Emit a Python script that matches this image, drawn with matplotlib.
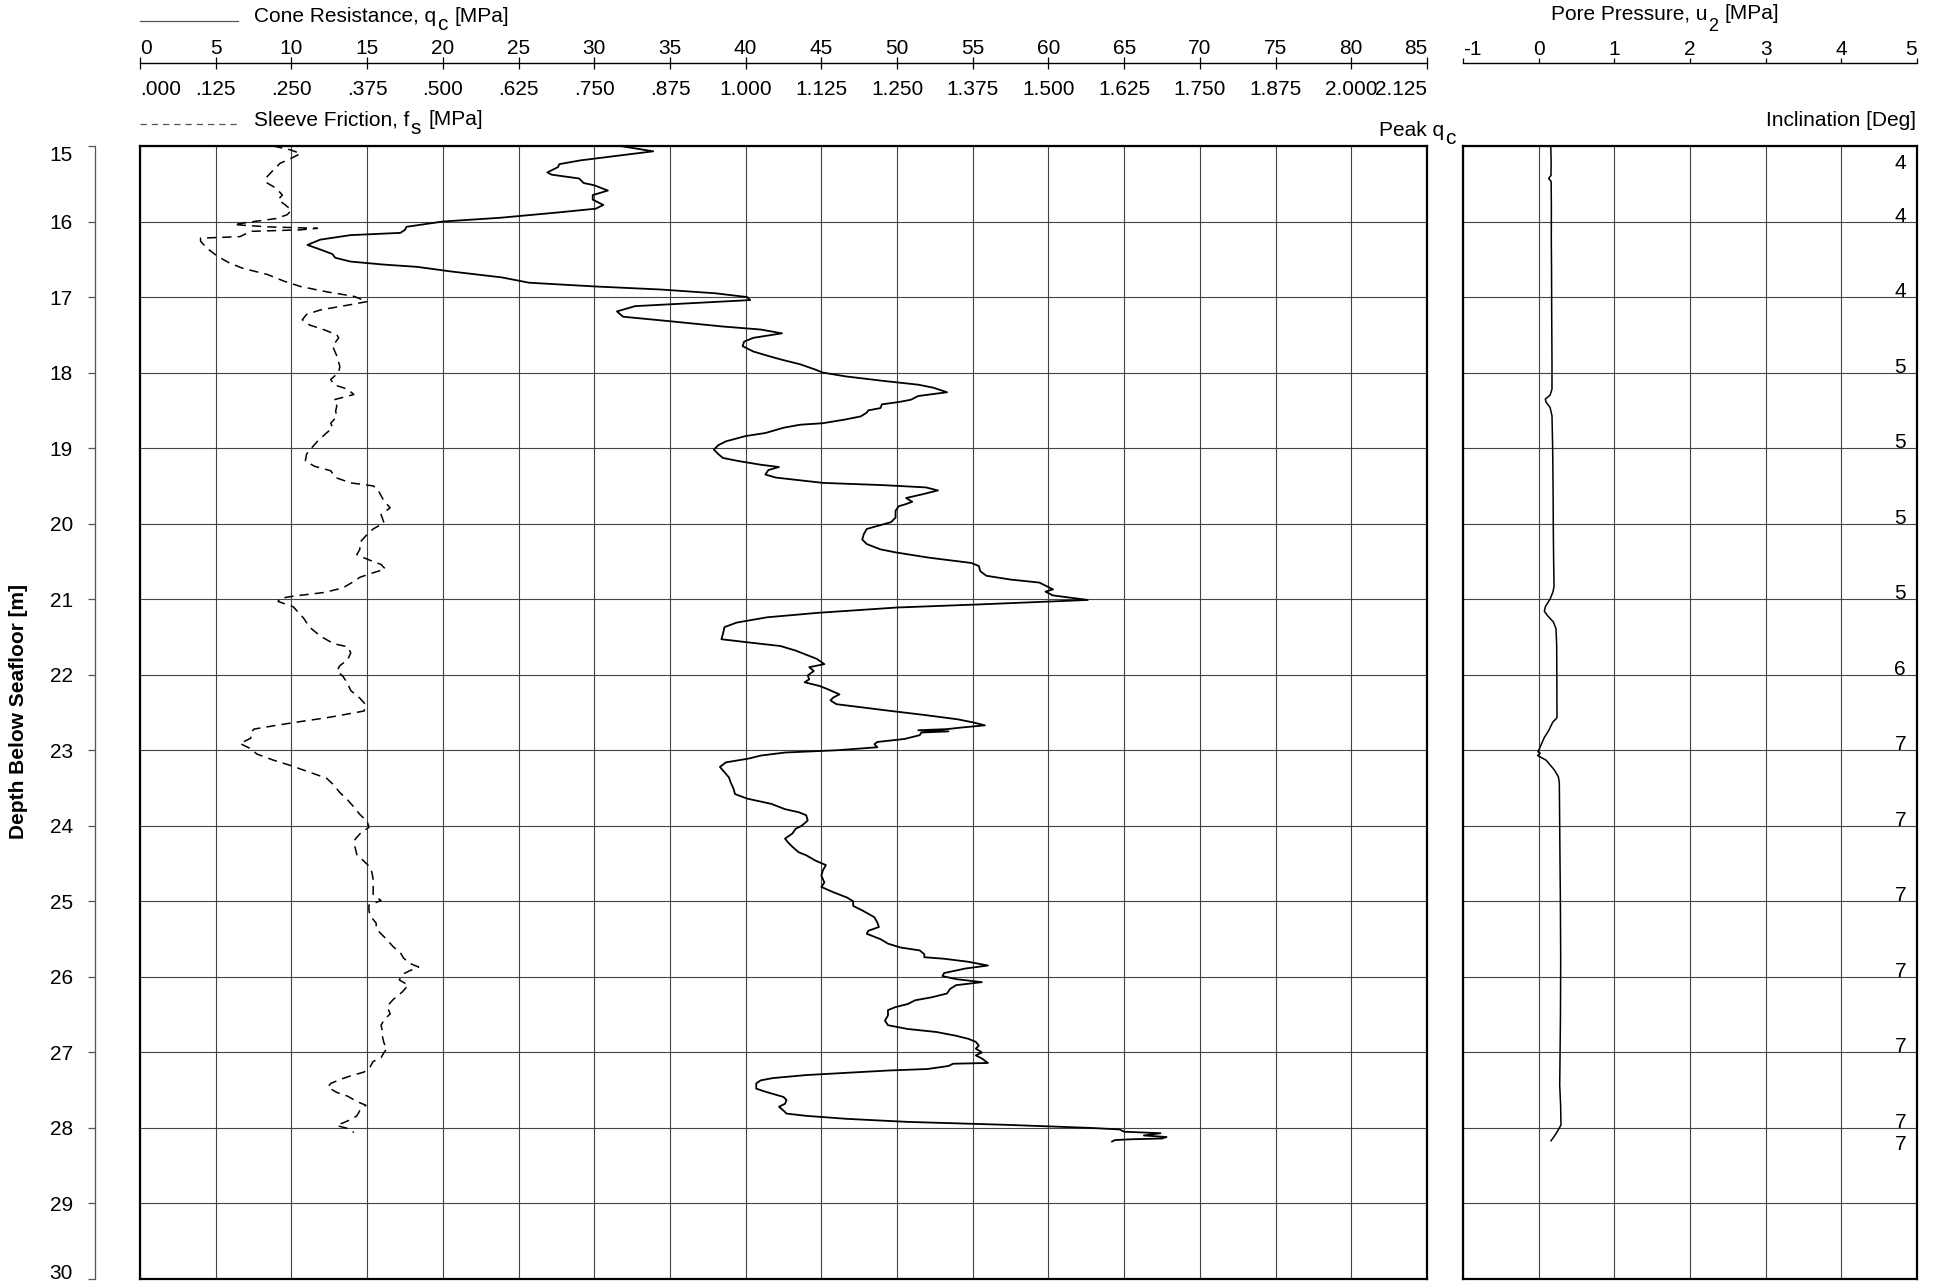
import matplotlib
matplotlib.use("Agg")
import matplotlib.pyplot as plt
from matplotlib.lines import Line2D
from matplotlib.transforms import blended_transform_factory

plt.rcParams["font.family"] = ["Liberation Sans", "DejaVu Sans"]
plt.rcParams["axes.unicode_minus"] = False

W, H = 1934, 1281
FS = 15
PX = 100 / 72  # pixels per point at 100 dpi

# ---------------- CPT data ----------------
qc_depth = [15.0, 15.07, 15.19, 15.24, 15.28, 15.35, 15.38, 15.43, 15.49, 15.52, 15.59, 15.65,
            15.71, 15.78, 15.83, 15.88, 15.95, 16.0, 16.07, 16.11, 16.15, 16.18, 16.24, 16.31,
            16.37, 16.43, 16.48, 16.53, 16.57, 16.6, 16.66, 16.74, 16.81, 16.86, 16.9, 16.95,
            17.0, 17.04, 17.08, 17.12, 17.19, 17.26, 17.32, 17.39, 17.43, 17.48, 17.54, 17.59,
            17.65, 17.72, 17.78, 17.83, 17.89, 17.96, 18.0, 18.05, 18.11, 18.16, 18.2, 18.26,
            18.31, 18.36, 18.39, 18.42, 18.47, 18.5, 18.53, 18.58, 18.62, 18.67, 18.69, 18.73,
            18.8, 18.84, 18.91, 18.96, 19.02, 19.08, 19.13, 19.17, 19.22, 19.25, 19.29, 19.35,
            19.39, 19.46, 19.49, 19.52, 19.56, 19.61, 19.66, 19.71, 19.74, 19.77, 19.83, 19.92,
            19.98, 20.03, 20.07, 20.14, 20.21, 20.27, 20.34, 20.38, 20.45, 20.52, 20.56, 20.63,
            20.69, 20.74, 20.78, 20.82, 20.87, 20.9, 20.95, 21.01, 21.07, 21.11, 21.18, 21.24,
            21.31, 21.37, 21.46, 21.53, 21.57, 21.62, 21.68, 21.75, 21.79, 21.86, 21.9, 21.95,
            22.01, 22.06, 22.1, 22.15, 22.19, 22.26, 22.3, 22.34, 22.39, 22.43, 22.48, 22.53,
            22.59, 22.63, 22.67, 22.7, 22.72, 22.735, 22.75, 22.765, 22.8, 22.85, 22.89, 22.92,
            22.96, 23.0, 23.03, 23.07, 23.11, 23.16, 23.22, 23.29, 23.36, 23.42, 23.51, 23.58,
            23.64, 23.71, 23.78, 23.82, 23.86, 23.93, 24.0, 24.04, 24.1, 24.17, 24.22, 24.28,
            24.35, 24.39, 24.46, 24.52, 24.59, 24.66, 24.75, 24.81, 24.88, 24.95, 25.0, 25.06,
            25.12, 25.21, 25.28, 25.34, 25.39, 25.43, 25.5, 25.56, 25.61, 25.65, 25.7, 25.74,
            25.76, 25.8, 25.85, 25.89, 25.95, 25.99, 26.03, 26.07, 26.11, 26.16, 26.22, 26.27,
            26.31, 26.36, 26.4, 26.44, 26.51, 26.58, 26.64, 26.69, 26.73, 26.78, 26.82, 26.86,
            26.91, 26.95, 27.0, 27.04, 27.08, 27.14, 27.15, 27.18, 27.22, 27.24, 27.27, 27.3,
            27.34, 27.37, 27.41, 27.48, 27.52, 27.59, 27.63, 27.68, 27.72, 27.77, 27.81, 27.84,
            27.88, 27.92, 27.96, 28.0, 28.02, 28.05, 28.07, 28.1, 28.12, 28.14, 28.15, 28.16,
            28.18]
qc_mpa = [31.7, 33.9, 29.1, 27.7, 27.6, 26.9, 27.2, 29.0, 29.3, 30.0, 30.9, 29.9,
          29.9, 30.6, 30.1, 27.6, 23.8, 20.0, 17.6, 17.5, 17.2, 13.9, 11.9, 11.06,
          11.9, 12.7, 12.9, 13.9, 16.1, 18.3, 20.5, 23.9, 25.7, 30.1, 34.4, 38.0,
          40.1, 40.3, 36.5, 32.7, 31.5, 31.9, 35.0, 38.5, 41.0, 42.4, 40.5, 39.9,
          39.8, 40.5, 41.5, 42.4, 43.6, 44.6, 45.1, 46.6, 49.1, 51.4, 52.4, 53.3,
          51.4, 50.9, 50.1, 49.0, 48.9, 48.1, 48.0, 47.6, 46.6, 45.1, 43.6, 42.5,
          41.3, 40.0, 38.7, 38.2, 37.9, 38.2, 38.5, 39.5, 41.0, 42.2, 41.5, 41.3,
          42.0, 45.1, 49.1, 51.9, 52.7, 51.7, 50.6, 51.0, 50.6, 50.1, 49.9, 49.9,
          49.6, 48.7, 48.0, 47.8, 47.7, 48.0, 48.9, 49.9, 52.1, 54.9, 55.4, 55.5,
          55.9, 57.5, 59.4, 59.8, 60.3, 59.8, 60.3, 62.6, 55.3, 50.0, 44.8, 41.4,
          39.4, 38.6, 38.5, 38.4, 40.1, 42.3, 43.3, 44.2, 44.7, 45.2, 44.2, 44.5,
          44.1, 44.2, 43.9, 44.9, 45.4, 46.2, 45.8, 45.6, 46.0, 47.6, 49.6, 51.7,
          54.0, 55.0, 55.8, 54.2, 53.3, 51.4, 53.4, 51.6, 51.5, 50.5, 48.7, 48.5,
          48.7, 46.0, 42.6, 41.0, 40.2, 38.7, 38.3, 38.6, 38.9, 39.0, 39.2, 39.3,
          40.1, 41.7, 42.6, 43.5, 44.0, 44.1, 43.7, 43.3, 43.1, 42.6, 42.8, 43.1,
          43.5, 44.0, 44.6, 45.3, 45.1, 45.0, 45.2, 45.0, 45.8, 46.7, 47.1, 47.1,
          47.7, 48.5, 48.7, 48.8, 48.1, 48.0, 48.9, 49.4, 50.2, 51.5, 51.8, 51.8,
          53.1, 54.7, 56.0, 54.5, 53.1, 53.0, 53.9, 55.6, 53.9, 53.5, 53.3, 52.3,
          51.2, 50.7, 49.9, 49.4, 49.4, 49.2, 49.4, 50.7, 52.6, 53.9, 54.7, 55.2,
          55.4, 55.2, 55.6, 55.2, 55.6, 56.0, 53.7, 53.4, 52.0, 49.4, 46.7, 44.0,
          41.8, 41.0, 40.7, 40.7, 41.3, 42.5, 42.7, 42.6, 42.2, 42.5, 42.7, 44.0,
          46.7, 50.7, 57.4, 62.8, 64.7, 65.0, 67.4, 66.3, 67.8, 67.5, 65.5, 64.4,
          64.2]

fs_depth = [15.0, 15.05, 15.1, 15.17, 15.23, 15.32, 15.43, 15.49, 15.56, 15.65, 15.71, 15.78,
            15.85, 15.91, 15.96, 16.0, 16.04, 16.07, 16.09, 16.11, 16.13, 16.2, 16.22, 16.26,
            16.35, 16.46, 16.55, 16.62, 16.7, 16.79, 16.86, 16.93, 16.99, 17.06, 17.1, 17.17,
            17.23, 17.3, 17.37, 17.43, 17.5, 17.54, 17.65, 17.78, 17.92, 18.0, 18.09, 18.16,
            18.22, 18.29, 18.36, 18.44, 18.51, 18.58, 18.67, 18.73, 18.82, 18.91, 19.0, 19.08,
            19.17, 19.24, 19.3, 19.39, 19.46, 19.5, 19.55, 19.63, 19.7, 19.79, 19.88, 19.99,
            20.07, 20.16, 20.25, 20.34, 20.41, 20.47, 20.54, 20.6, 20.65, 20.71, 20.78, 20.85,
            20.91, 20.96, 20.99, 21.03, 21.1, 21.25, 21.37, 21.49, 21.59, 21.63, 21.71, 21.8,
            21.88, 21.95, 22.02, 22.12, 22.21, 22.31, 22.4, 22.48, 22.52, 22.57, 22.62, 22.67,
            22.72, 22.77, 22.84, 22.91, 22.98, 23.05, 23.13, 23.2, 23.29, 23.37, 23.46, 23.56,
            23.66, 23.75, 23.85, 23.94, 24.02, 24.09, 24.18, 24.28, 24.38, 24.47, 24.55, 24.62,
            24.71, 24.81, 24.91, 24.99, 25.05, 25.12, 25.19, 25.29, 25.36, 25.43, 25.51, 25.6,
            25.68, 25.75, 25.82, 25.87, 25.92, 25.96, 26.04, 26.11, 26.2, 26.3, 26.39, 26.49,
            26.57, 26.64, 26.71, 26.78, 26.88, 26.95, 27.0, 27.07, 27.12, 27.19, 27.26, 27.31,
            27.36, 27.41, 27.46, 27.53, 27.58, 27.65, 27.7, 27.77, 27.84, 27.89, 27.94, 27.97,
            27.99, 28.01, 28.06]
fs_mpa = [0.220, 0.248, 0.265, 0.248, 0.231, 0.220, 0.207, 0.210, 0.225, 0.235, 0.228, 0.240,
          0.250, 0.243, 0.225, 0.188, 0.155, 0.210, 0.293, 0.265, 0.183, 0.165, 0.100, 0.100,
          0.110, 0.128, 0.148, 0.170, 0.210, 0.238, 0.265, 0.308, 0.353, 0.375, 0.348, 0.298,
          0.275, 0.268, 0.280, 0.303, 0.325, 0.328, 0.318, 0.325, 0.330, 0.328, 0.315, 0.320,
          0.343, 0.353, 0.320, 0.325, 0.323, 0.325, 0.315, 0.318, 0.305, 0.293, 0.283, 0.275,
          0.273, 0.288, 0.315, 0.323, 0.348, 0.385, 0.393, 0.398, 0.403, 0.413, 0.398, 0.403,
          0.385, 0.373, 0.363, 0.363, 0.358, 0.375, 0.398, 0.405, 0.385, 0.363, 0.350, 0.335,
          0.305, 0.253, 0.231, 0.228, 0.253, 0.270, 0.280, 0.298, 0.320, 0.343, 0.348, 0.343,
          0.330, 0.325, 0.335, 0.343, 0.348, 0.363, 0.373, 0.370, 0.343, 0.308, 0.265, 0.225,
          0.188, 0.183, 0.183, 0.165, 0.183, 0.193, 0.220, 0.248, 0.280, 0.308, 0.320, 0.330,
          0.343, 0.353, 0.363, 0.375, 0.378, 0.365, 0.355, 0.355, 0.358, 0.370, 0.380, 0.383,
          0.385, 0.385, 0.385, 0.398, 0.378, 0.378, 0.380, 0.390, 0.390, 0.398, 0.408, 0.418,
          0.430, 0.435, 0.445, 0.460, 0.445, 0.435, 0.428, 0.443, 0.433, 0.418, 0.408, 0.413,
          0.403, 0.398, 0.400, 0.400, 0.403, 0.408, 0.403, 0.398, 0.385, 0.380, 0.370, 0.348,
          0.330, 0.315, 0.310, 0.325, 0.343, 0.358, 0.373, 0.363, 0.358, 0.348, 0.333, 0.325,
          0.335, 0.345, 0.353]

u2_depth = [15.0, 15.2, 15.39, 15.43, 15.47, 15.8, 16.22, 16.6, 17.17, 17.5, 17.87, 18.22,
            18.3, 18.35, 18.39, 18.46, 18.57, 19.0, 19.5, 20.13, 20.5, 20.83, 20.9, 21.0,
            21.1, 21.16, 21.22, 21.3, 21.39, 21.61, 22.0, 22.57, 22.63, 22.74, 22.83, 22.91,
            22.98, 23.02, 23.04, 23.07, 23.13, 23.26, 23.35, 23.43, 24.0, 24.48, 25.0, 25.78,
            26.5, 27.09, 27.43, 27.7, 27.96, 28.04, 28.11, 28.17]
u2_mpa = [0.160, 0.165, 0.163, 0.132, 0.165, 0.168, 0.167, 0.170, 0.172, 0.174, 0.176, 0.176,
          0.150, 0.088, 0.097, 0.150, 0.176, 0.185, 0.190, 0.194, 0.198, 0.203, 0.190, 0.150,
          0.088, 0.075, 0.119, 0.194, 0.229, 0.238, 0.240, 0.242, 0.185, 0.132, 0.075, 0.040,
          0.009, -0.010, 0.020, -0.013, 0.097, 0.207, 0.260, 0.273, 0.278, 0.282, 0.287, 0.291,
          0.288, 0.282, 0.278, 0.290, 0.295, 0.251, 0.207, 0.163]

incl_depth = [15.3, 16, 17, 18, 19, 20, 21, 22, 23, 24, 25, 26, 27, 28, 28.29]
incl_deg = [4, 4, 4, 5, 5, 5, 5, 6, 7, 7, 7, 7, 7, 7, 7]

# ---------------- scales ----------------
qc_ticks = list(range(0, 90, 5))
fs_ticks = [i * 0.125 for i in range(18)]
fs_tick_labels = [".000", ".125", ".250", ".375", ".500", ".625", ".750", ".875",
                  "1.000", "1.125", "1.250", "1.375", "1.500", "1.625", "1.750",
                  "1.875", "2.000", "2.125"]
u2_ticks = [-1, 0, 1, 2, 3, 4, 5]
depth_ticks = list(range(15, 31))


def box(x0, y0, x1, y1):
    """Pixel box (top-left origin) -> figure fraction rect."""
    return [x0 / W, 1 - y1 / H, (x1 - x0) / W, (y1 - y0) / H]


def fx(x):
    return x / W


def fy(y):
    return 1 - y / H


fig = plt.figure(figsize=(W / 100, H / 100), dpi=100)
fig.patch.set_facecolor("white")
renderer = fig.canvas.get_renderer()


def text_run(x, y, pieces, ha="left"):
    """Write a heading made of pieces (text, gap_px, drop_px, size) on one baseline."""
    made = []
    total = 0.0
    for s, gap, drop, size in pieces:
        t = fig.text(0, 0, s, fontsize=size, ha="left", va="baseline")
        w = t.get_window_extent(renderer).width
        made.append((t, gap, drop, w))
        total += gap + w
    cx = x - {"left": 0.0, "center": total / 2, "right": total}[ha]
    for t, gap, drop, w in made:
        cx += gap
        t.set_position((fx(cx), fy(y + drop)))
        cx += w


GRID = dict(color="#444444", linewidth=0.8)

# ---------------- main panel: qc and fs ----------------
ax = fig.add_axes(box(140, 146, 1427, 1279))
ax.set_xlim(0, 85)
ax.set_ylim(30, 15)
ax.set_xticks(qc_ticks)
ax.set_yticks(depth_ticks)
ax.grid(True, **GRID)
ax.set_axisbelow(True)
ax.tick_params(length=0, labelbottom=False, labelleft=False)
for s in ax.spines.values():
    s.set_linewidth(1.6)
    s.set_color("black")
ax.plot(qc_mpa, qc_depth, color="black", lw=1.3, zorder=3)

axf = ax.twiny()
axf.set_xlim(0, 2.125)
axf.set_ylim(30, 15)
axf.axis("off")
axf.plot(fs_mpa, fs_depth, color="black", lw=1.1, dashes=(6, 4), zorder=3)

# ---------------- right panel: u2 and inclination ----------------
axu = fig.add_axes(box(1463, 146, 1917, 1279))
axu.set_xlim(-1, 5)
axu.set_ylim(30, 15)
axu.set_xticks(u2_ticks)
axu.set_yticks(depth_ticks)
axu.grid(True, **GRID)
axu.set_axisbelow(True)
axu.tick_params(length=0, labelbottom=False, labelleft=False)
for s in axu.spines.values():
    s.set_linewidth(1.6)
    s.set_color("black")
axu.plot(u2_mpa, u2_depth, color="black", lw=1.1, zorder=3)

tr = blended_transform_factory(axu.transAxes, axu.transData)
for d, v in zip(incl_depth, incl_deg):
    axu.text(0.976, d, str(v), transform=tr, ha="right", va="baseline",
             fontsize=FS, zorder=4)

# ---------------- depth scale ----------------
axd = fig.add_axes(box(95, 146, 96, 1279))
axd.set_ylim(30, 15)
axd.set_yticks(depth_ticks)
axd.set_xticks([])
for k in ("top", "right", "bottom"):
    axd.spines[k].set_visible(False)
axd.spines["left"].set_linewidth(0.9)
axd.spines["left"].set_color("#555555")
axd.patch.set_visible(False)
axd.tick_params(axis="y", direction="out", length=5, width=0.9, color="#555555",
                labelsize=FS, pad=11)
dticks = axd.yaxis.get_major_ticks()
dticks[0].label1.set_verticalalignment("top")
dticks[-1].label1.set_verticalalignment("baseline")
fig.text(fx(19), fy(712), "Depth Below Seafloor [m]", rotation=90, fontsize=FS,
         fontweight="bold", ha="center", va="center")

# ---------------- top scales ----------------
axq = fig.add_axes([fx(140), fy(63), (1427 - 140) / W, 0.00001])
axq.set_xlim(0, 85)
axq.set_xticks(qc_ticks)
axq.set_yticks([])
for k in ("top", "left", "right"):
    axq.spines[k].set_visible(False)
axq.spines["bottom"].set_linewidth(1.0)
axq.patch.set_visible(False)
axq.tick_params(axis="x", bottom=True, top=False, direction="inout", length=8.5,
                width=0.9, labelbottom=False, labeltop=True, labelsize=FS, pad=-0.8)
qticks = axq.xaxis.get_major_ticks()
qticks[0].label2.set_horizontalalignment("left")
qticks[-1].label2.set_horizontalalignment("right")

axs = fig.add_axes([fx(140), fy(63), (1427 - 140) / W, 0.00001])
axs.set_xlim(0, 2.125)
axs.set_xticks(fs_ticks)
axs.set_xticklabels(fs_tick_labels)
axs.set_yticks([])
for s in axs.spines.values():
    s.set_visible(False)
axs.patch.set_visible(False)
axs.tick_params(axis="x", length=0, labelsize=FS, pad=12.5)
sticks = axs.xaxis.get_major_ticks()
sticks[0].label1.set_horizontalalignment("left")
sticks[-1].label1.set_horizontalalignment("right")

axp = fig.add_axes([fx(1463), fy(63), (1917 - 1463) / W, 0.00001])
axp.set_xlim(-1, 5)
axp.set_xticks(u2_ticks)
axp.set_yticks([])
for k in ("top", "left", "right"):
    axp.spines[k].set_visible(False)
axp.spines["bottom"].set_linewidth(1.0)
axp.patch.set_visible(False)
axp.tick_params(axis="x", bottom=True, top=False, direction="in", length=3.6,
                width=0.9, labelbottom=False, labeltop=True, labelsize=FS, pad=3.2)
pticks = axp.xaxis.get_major_ticks()
pticks[0].label2.set_horizontalalignment("left")
pticks[-1].label2.set_horizontalalignment("right")

# ---------------- headings and legend keys ----------------
fig.add_artist(Line2D([fx(140), fx(238)], [fy(21), fy(21)], color="#555555", lw=0.9))
fig.add_artist(Line2D([fx(140), fx(238)], [fy(124), fy(124)], color="#555555", lw=0.9,
                      dashes=(5, 4)))

text_run(254, 22, [("Cone Resistance, q", 0, 0, FS), ("c", 0.5, 8.5, FS),
                   ("[MPa]", 8, 0, FS)])
text_run(254, 125, [("Sleeve Friction, f", 0, 0, FS), ("s", 1.0, 8.5, FS),
                    ("[MPa]", 8, 0, FS)])
text_run(1379, 136, [("Peak q", 0, 0, FS), ("c", 0.5, 8.5, FS)])
text_run(1665, 19, [("Pore Pressure, u", 0, 0, FS), ("2", 0.5, 12, 13),
                    ("[MPa]", 6, 0, FS)], ha="center")
fig.text(fx(1916), fy(126), "Inclination [Deg]", fontsize=FS, ha="right", va="baseline")

fig.savefig("out.png", dpi=100, facecolor="white")
